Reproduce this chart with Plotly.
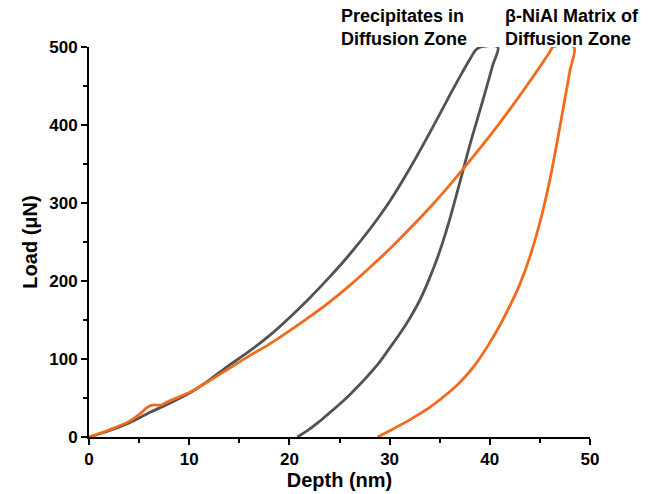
import plotly.graph_objects as go

# Precipitates in Diffusion Zone (gray): loading then unloading
prec_depth = [0, 2, 4, 6, 8, 10, 12, 14, 16, 18, 20, 22, 24, 26, 28, 30, 32, 34, 36, 37.1, 38.0, 38.6, 39.1, 40.8,
              40.3, 39.8, 39.0, 38.0, 37.0, 36.0, 35.0, 34.0, 33.0, 32.0, 31.0, 30.0, 29.0, 28.0, 27.0, 26.0,
              25.0, 24.0, 23.0, 22.0, 20.8]
prec_load = [0, 8, 18, 31, 43, 56, 73, 92, 110, 130, 153, 178, 205, 234, 266, 302, 344, 390, 438, 464, 484, 496, 500, 500,
             477, 454, 418, 374, 326, 279, 238, 204, 175, 152, 132, 114, 96, 81, 67, 54,
             42, 31, 20, 10, 0]

# beta-NiAl Matrix of Diffusion Zone (orange): loading then unloading
mat_depth = [0, 2, 4, 5.2, 5.8, 6.3, 7.2, 8, 10, 12, 14, 16, 18, 20, 22, 24, 26, 28, 30, 32, 34, 36, 38, 40, 42,
             44, 46.0, 46.3, 48.4,
             48.0, 47.6, 47.0, 46.0, 45.0, 44.0, 43.0, 42.0, 41.0, 40.0, 39.0, 38.0, 37.0, 36.0, 34.0, 32.0, 30.0, 28.8]
mat_load = [0, 9, 20, 31, 38, 41, 41, 46, 57, 72, 88, 104, 119, 136, 154, 173, 194, 217, 241, 267, 294, 323, 354, 386, 420,
            456, 494, 500, 500,
            470, 441, 398, 330, 275, 231, 196, 168, 143, 121, 101, 84, 70, 58, 38, 22, 8, 0]

x_ticks = [0, 10, 20, 30, 40, 50]
y_ticks = [0, 100, 200, 300, 400, 500]

GRAY = "#525252"
ORANGE = "#F26A1C"
FONT = "Liberation Sans, Arial, sans-serif"

fig = go.Figure()
fig.add_trace(go.Scatter(x=prec_depth, y=prec_load, mode="lines",
                         line=dict(color=GRAY, width=2.8, shape="spline", smoothing=0.9), cliponaxis=False,
                         name="Precipitates in Diffusion Zone"))
fig.add_trace(go.Scatter(x=mat_depth, y=mat_load, mode="lines",
                         line=dict(color=ORANGE, width=2.8, shape="spline", smoothing=0.9), cliponaxis=False,
                         name="β-NiAl Matrix of Diffusion Zone"))

axis_common = dict(showline=True, linecolor="black", linewidth=2, ticks="outside",
                   ticklen=6, tickwidth=2, tickcolor="black", showgrid=False, zeroline=False,
                   tickfont=dict(family=FONT, size=17, color="black", weight="bold"))

fig.update_xaxes(range=[0, 50], tickvals=x_ticks,
                 minor=dict(ticks="outside", ticklen=4, tickwidth=2, tickcolor="black", dtick=5, tick0=0),
                 title=dict(text="Depth (nm)", font=dict(family=FONT, size=20, color="black", weight="bold"),
                            standoff=0),
                 **axis_common)
fig.update_yaxes(range=[0, 500], tickvals=y_ticks,
                 minor=dict(ticks="outside", ticklen=4, tickwidth=2, tickcolor="black", dtick=50, tick0=0),
                 title=dict(text="Load (μN)", font=dict(family=FONT, size=20, color="black", weight="bold"),
                            standoff=6),
                 **axis_common)

fig.add_annotation(text="Precipitates in<br>Diffusion Zone", xref="paper", yref="paper",
                   x=(339 - 89) / 501, y=1 + (47.5 - 5) / 389.5, xanchor="left", yanchor="top",
                   align="left", showarrow=False,
                   font=dict(family=FONT, size=18, color="black", weight="bold"))
fig.add_annotation(text="β-NiAl Matrix of<br>Diffusion Zone", xref="paper", yref="paper",
                   x=(503 - 89) / 501, y=1 + (47.5 - 5) / 389.5, xanchor="left", yanchor="top",
                   align="left", showarrow=False,
                   font=dict(family=FONT, size=18, color="black", weight="bold"))

fig.update_layout(width=654, height=494, margin=dict(l=89, r=64, t=47, b=57),
                  paper_bgcolor="white", plot_bgcolor="white", showlegend=False)

fig.write_html("out.html")
